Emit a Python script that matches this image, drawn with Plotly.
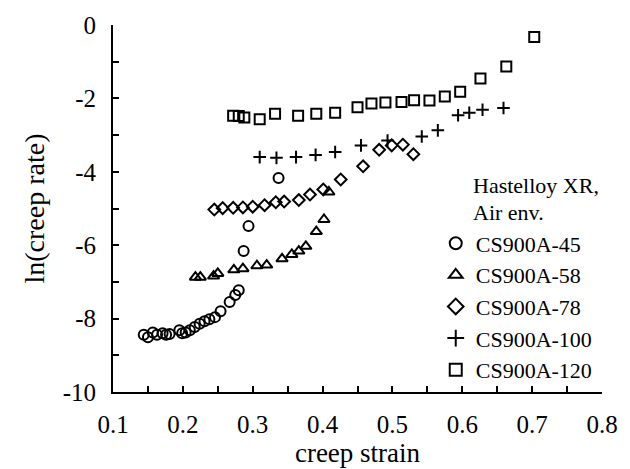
import plotly.graph_objects as go

# ---- data ----
x45 = [0.144,0.150,0.157,0.163,0.171,0.176,0.181,0.195,0.199,0.204,0.210,0.217,0.224,0.231,0.238,0.246,0.254,0.267,0.275,0.280,0.287,0.294,0.337]
y45 = [-8.44,-8.51,-8.38,-8.44,-8.40,-8.44,-8.42,-8.32,-8.40,-8.38,-8.32,-8.23,-8.14,-8.07,-8.02,-7.96,-7.80,-7.55,-7.36,-7.23,-6.16,-5.48,-4.17]

x58 = [0.218,0.225,0.244,0.250,0.273,0.286,0.306,0.320,0.342,0.356,0.366,0.376,0.391,0.402,0.409]
y58 = [-6.87,-6.87,-6.84,-6.77,-6.67,-6.64,-6.56,-6.54,-6.37,-6.25,-6.16,-6.03,-5.63,-5.30,-4.55]

x78 = [0.245,0.257,0.272,0.286,0.300,0.317,0.333,0.345,0.366,0.382,0.401,0.426,0.458,0.481,0.499,0.515,0.530]
y78 = [-5.03,-4.99,-4.98,-4.97,-4.95,-4.91,-4.83,-4.81,-4.77,-4.62,-4.48,-4.21,-3.85,-3.40,-3.28,-3.26,-3.52]

x100 = [0.310,0.334,0.362,0.390,0.418,0.455,0.493,0.542,0.565,0.594,0.610,0.629,0.659]
y100 = [-3.60,-3.62,-3.60,-3.54,-3.46,-3.28,-3.15,-3.04,-2.87,-2.46,-2.39,-2.31,-2.26]

x120 = [0.272,0.280,0.288,0.310,0.332,0.365,0.391,0.418,0.450,0.470,0.490,0.513,0.531,0.553,0.575,0.597,0.626,0.663,0.703]
y120 = [-2.47,-2.48,-2.52,-2.57,-2.42,-2.47,-2.42,-2.39,-2.24,-2.14,-2.11,-2.10,-2.05,-2.06,-1.95,-1.82,-1.46,-1.13,-0.33]

series_names = ["CS900A-45", "CS900A-58", "CS900A-78", "CS900A-100", "CS900A-120"]
legend_title_lines = ["Hastelloy XR,", "Air env."]
x_ticks = [0.1, 0.2, 0.3, 0.4, 0.5, 0.6, 0.7, 0.8]
y_ticks = [0, -2, -4, -6, -8, -10]

FONT = "Liberation Serif"

styles = [
    dict(symbol="circle-open", size=10),
    dict(symbol="triangle-up-open", size=10),
    dict(symbol="diamond-open", size=9),
    dict(symbol="cross-thin-open", size=9),
    dict(symbol="square-open", size=10),
]
data = [(x45, y45), (x58, y58), (x78, y78), (x100, y100), (x120, y120)]

fig = go.Figure()
for (xs, ys), name, st in zip(data, series_names, styles):
    fig.add_trace(go.Scatter(
        x=xs, y=ys, mode="markers", name=name,
        marker=dict(symbol=st["symbol"], size=st["size"], color="black",
                    line=dict(color="black", width=2)),
    ))

axis_common = dict(
    showgrid=False, zeroline=False, showline=True, linecolor="black", linewidth=2,
    ticks="inside", ticklen=6, tickwidth=1.5, tickcolor="black",
    tickfont=dict(family=FONT, size=25, color="black"),
    mirror=False,
)

fig.update_xaxes(
    range=[0.1, 0.8], tickvals=x_ticks, ticktext=[f"{v:.1f}" for v in x_ticks],
    minor=dict(dtick=0.05, ticks="inside", ticklen=6, tickwidth=1.5, tickcolor="black"),
    ticklabelstandoff=9,
    title=dict(text="creep strain", font=dict(family=FONT, size=27, color="black"), standoff=0),
    **axis_common,
)
fig.update_yaxes(
    range=[-10, 0], tickvals=y_ticks, ticktext=[str(v) for v in y_ticks],
    minor=dict(dtick=1, ticks="inside", ticklen=6, tickwidth=1.5, tickcolor="black"),
    ticklabelstandoff=10,
    title=dict(text="ln(creep rate)", font=dict(family=FONT, size=28, color="black"), standoff=10),
    **axis_common,
)

for i, line in enumerate(legend_title_lines):
    fig.add_annotation(
        x=0.733, y=0.562 - i * 0.073, xref="paper", yref="paper",
        text=line, showarrow=False, xanchor="left", yanchor="middle",
        font=dict(family=FONT, size=22, color="black"),
    )

fig.update_layout(
    width=630, height=469,
    margin=dict(l=113, r=26, t=20, b=73),
    plot_bgcolor="white", paper_bgcolor="white",
    font=dict(family=FONT, size=22, color="black"),
    legend=dict(
        x=0.66, y=0.462, xanchor="left", yanchor="top",
        font=dict(family=FONT, size=22, color="black"),
        bgcolor="rgba(0,0,0,0)", traceorder="normal",
        itemsizing="constant",
    ),
)

fig.write_html("out.html")
